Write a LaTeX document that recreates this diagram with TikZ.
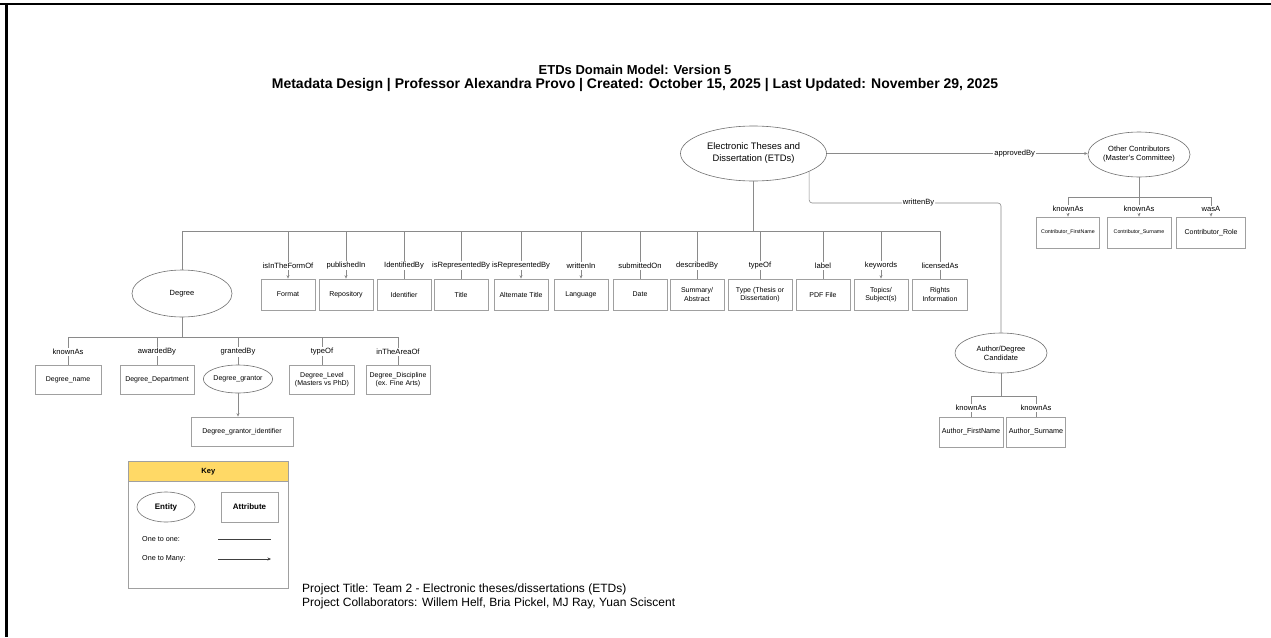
\documentclass[tikz,border=0pt]{standalone}
\usepackage{fontspec}
\setmainfont{Liberation Sans}
\usetikzlibrary{shapes.geometric,arrows.meta}
\definecolor{linec}{HTML}{8A8A8A}
\definecolor{boxc}{HTML}{A0A0A0}
\definecolor{entc}{HTML}{707070}
\definecolor{keyy}{HTML}{FFD966}
\newcommand{\fsz}[2]{\fontsize{#1}{#2}\selectfont}
\begin{document}
\begin{tikzpicture}[x=1pt,y=-1pt,
  ent/.style={ellipse, draw=entc, line width=0.6pt, inner sep=0pt, align=center, font=\fsz{7.5}{9}},
  attr/.style={rectangle, draw=boxc, line width=0.7pt, inner sep=1pt, align=center, minimum height=31pt, font=\fsz{7}{8.5}},
  rel/.style={fill=white, inner sep=1pt, font=\fsz{7.6}{8.5}},
  conn/.style={draw=linec, line width=0.6pt},
  many/.style={conn, -{Stealth[length=3.5pt,width=3pt]}},
  keyline/.style={draw=black!75, line width=0.5pt}]
\useasboundingbox (0,0) rectangle (1271,637);
\fill[white] (0,0) rectangle (1271,637);
% frame
\draw[line width=2pt] (0,4) -- (1271,4);
\draw[line width=3pt] (6.5,3) -- (6.5,637);
% title
\node[font=\bfseries\fsz{13}{15}] (t1) at (635,70) {ETDs Domain Model: Version 5};
\node[font=\bfseries\fsz{14}{16}] (t2) at (635,85) {Metadata Design | Professor Alexandra Provo | Created: October 15, 2025 | Last Updated: November 29, 2025};
% entities
\node[ent, minimum width=146pt, minimum height=55pt, font=\fsz{9.4}{12}] (etd) at (753.5,153.5) {Electronic Theses and\\Dissertation (ETDs)};
\node[ent, minimum width=102pt, minimum height=45pt] (oc) at (1139,154.5) {Other Contributors\\(Master's Committee)};
\node[ent, minimum width=100pt, minimum height=47pt] (deg) at (182,293.5) {Degree};
\node[ent, minimum width=92pt, minimum height=40pt] (auth) at (1001,353) {Author/Degree\\Candidate};
% row of attributes
\node[attr, minimum width=54pt] (format) at (288,294.5) {Format};
\node[attr, minimum width=54pt] (repo) at (346,294.5) {Repository};
\node[attr, minimum width=54pt] (ident) at (404,294.5) {Identifier};
\node[attr, minimum width=54pt] (title) at (461,294.5) {Title};
\node[attr, minimum width=54pt] (alt) at (521,294.5) {Alternate Title};
\node[attr, minimum width=54pt] (lang) at (581,294.5) {Language};
\node[attr, minimum width=54pt] (date) at (640,294.5) {Date};
\node[attr, minimum width=54pt] (summ) at (697,294.5) {Summary/\\Abstract};
\node[attr, minimum width=64pt] (type) at (760,294.5) {Type (Thesis or\\Dissertation)};
\node[attr, minimum width=54pt] (pdf) at (823,294.5) {PDF File};
\node[attr, minimum width=54pt] (topic) at (881,294.5) {Topics/\\Subject(s)};
\node[attr, minimum width=55pt] (rights) at (940,294.5) {Rights\\Information};
\coordinate (busA) at (753.5,231);
\draw[conn] (etd.south) -- (busA);
\draw[conn] (busA -| deg.north) -- (busA -| rights.north);
\draw[conn] (busA -| deg.north) -- (deg.north);
\draw[many] (busA -| format.north) -- node[rel,pos=0.73]{isInTheFormOf} (format.north);
\draw[many] (busA -| repo.north) -- node[rel,pos=0.73]{publishedIn} (repo.north);
\draw[conn] (busA -| ident.north) -- node[rel,pos=0.73]{IdentifiedBy} (ident.north);
\draw[conn] (busA -| title.north) -- node[rel,pos=0.73]{isRepresentedBy} (title.north);
\draw[many] (busA -| alt.north) -- node[rel,pos=0.73]{isRepresentedBy} (alt.north);
\draw[many] (busA -| lang.north) -- node[rel,pos=0.73]{writtenIn} (lang.north);
\draw[conn] (busA -| date.north) -- node[rel,pos=0.73]{submittedOn} (date.north);
\draw[conn] (busA -| summ.north) -- node[rel,pos=0.73]{describedBy} (summ.north);
\draw[conn] (busA -| type.north) -- node[rel,pos=0.73]{typeOf} (type.north);
\draw[conn] (busA -| pdf.north) -- node[rel,pos=0.73]{label} (pdf.north);
\draw[many] (busA -| topic.north) -- node[rel,pos=0.73]{keywords} (topic.north);
\draw[conn] (busA -| rights.north) -- node[rel,pos=0.73]{licensedAs} (rights.north);
% approvedBy
\draw[many] (etd.east) -- node[rel,pos=0.72]{approvedBy} (etd.east -| oc.west);
% writtenBy
\coordinate (wbR) at (1001,203);
\draw[conn, rounded corners=3pt] (etd.-18) |- node[rel,pos=0.785]{writtenBy} (wbR) -- (auth.north);
% other contributors subtree
\node[attr, minimum width=63pt, font=\fsz{5.3}{6}] (cfn) at (1068,232.5) {Contributor\_FirstName};
\node[attr, minimum width=64pt, font=\fsz{5.3}{6}] (csn) at (1139,232.5) {Contributor\_Surname};
\node[attr, minimum width=69pt, font=\fsz{7}{8}] (crole) at (1211,232.5) {Contributor\_Role};
\coordinate (busC) at (1139,197);
\draw[conn] (oc.south) -- (busC);
\draw[conn] (busC -| cfn.north) -- (busC -| crole.north);
\draw[many] (busC -| cfn.north) -- node[rel,pos=0.62]{knownAs} (cfn.north);
\draw[many] (busC -| csn.north) -- node[rel,pos=0.62]{knownAs} (csn.north);
\draw[many] (busC -| crole.north) -- node[rel,pos=0.62]{wasA} (crole.north);
% degree subtree
\node[attr, minimum width=66pt, minimum height=29pt] (dname) at (68,379.5) {Degree\_name};
\node[attr, minimum width=74pt, minimum height=29pt] (ddept) at (157,379.5) {Degree\_Department};
\node[ent, minimum width=62pt, minimum height=28pt, font=\fsz{7}{8.5}] (dgr) at (238,379) {Degree\_grantor};
\node[attr, minimum width=65pt, minimum height=29pt] (dlev) at (322,379.5) {Degree\_Level\\(Masters vs PhD)};
\node[attr, minimum width=64pt, minimum height=29pt] (ddisc) at (398,379.5) {Degree\_Discipline\\(ex. Fine Arts)};
\node[attr, minimum width=102pt, minimum height=29pt] (dgid) at (242,431.5) {Degree\_grantor\_identifier};
\coordinate (busD) at (182,337);
\draw[conn] (deg.south) -- (busD);
\draw[conn] (busD -| dname.north) -- (busD -| ddisc.north);
\draw[conn] (busD -| dname.north) -- node[rel,pos=0.54]{knownAs} (dname.north);
\draw[conn] (busD -| ddept.north) -- node[rel,pos=0.54]{awardedBy} (ddept.north);
\draw[conn] (busD -| dgr.north) -- node[rel,pos=0.54]{grantedBy} (dgr.north);
\draw[conn] (busD -| dlev.north) -- node[rel,pos=0.54]{typeOf} (dlev.north);
\draw[conn] (busD -| ddisc.north) -- node[rel,pos=0.54]{inTheAreaOf} (ddisc.north);
\draw[many] (dgr.south) -- (dgr.south |- dgid.north);
% author subtree
\node[attr, minimum width=64pt, minimum height=30pt, font=\fsz{7.2}{8.5}] (afn) at (971,432) {Author\_FirstName};
\node[attr, minimum width=59pt, minimum height=30pt, font=\fsz{7.2}{8.5}] (asn) at (1036,432) {Author\_Surname};
\coordinate (busE) at (1001,396);
\draw[conn] (auth.south) -- (busE);
\draw[conn] (busE -| afn.north) -- (busE -| asn.north);
\draw[conn] (busE -| afn.north) -- node[rel,pos=0.57]{knownAs} (afn.north);
\draw[conn] (busE -| asn.north) -- node[rel,pos=0.57]{knownAs} (asn.north);
% key
\node[draw=boxc, line width=0.7pt, minimum width=160pt, minimum height=127pt, anchor=north west, inner sep=0pt] (key) at (128,461) {};
\node[fill=keyy, draw=boxc, line width=0.7pt, minimum width=160pt, minimum height=20pt, anchor=north west, inner sep=0pt, font=\bfseries\fsz{7.5}{9}] (keyh) at (128,461) {Key};
\node[ent, minimum width=58pt, minimum height=30pt, font=\bfseries\fsz{8}{9}] (kent) at (166,507) {Entity};
\node[attr, minimum width=57pt, minimum height=30pt, font=\bfseries\fsz{8}{9}] (kattr) at (249.5,507) {Attribute};
\node[anchor=west, inner sep=0pt, font=\fsz{7.2}{8}] (k1) at (142,539) {One to one:};
\node[anchor=west, inner sep=0pt, font=\fsz{7.2}{8}] (k2) at (142,559) {One to Many:};
\coordinate (k1a) at (218,539);
\coordinate (k1b) at (271,539);
\coordinate (k2a) at (218,559);
\coordinate (k2b) at (271,559);
\draw[keyline] (k1a) -- (k1b);
\draw[keyline, -{Stealth[length=3.5pt,width=3pt]}] (k2a) -- (k2b);
% project text
\node[anchor=north west, align=left, inner sep=0pt, font=\fsz{12}{13.5}] (proj) at (302,584) {Project Title: Team 2 - Electronic theses/dissertations (ETDs)\\Project Collaborators: Willem Helf, Bria Pickel, MJ Ray, Yuan Sciscent};
\end{tikzpicture}
\end{document}
